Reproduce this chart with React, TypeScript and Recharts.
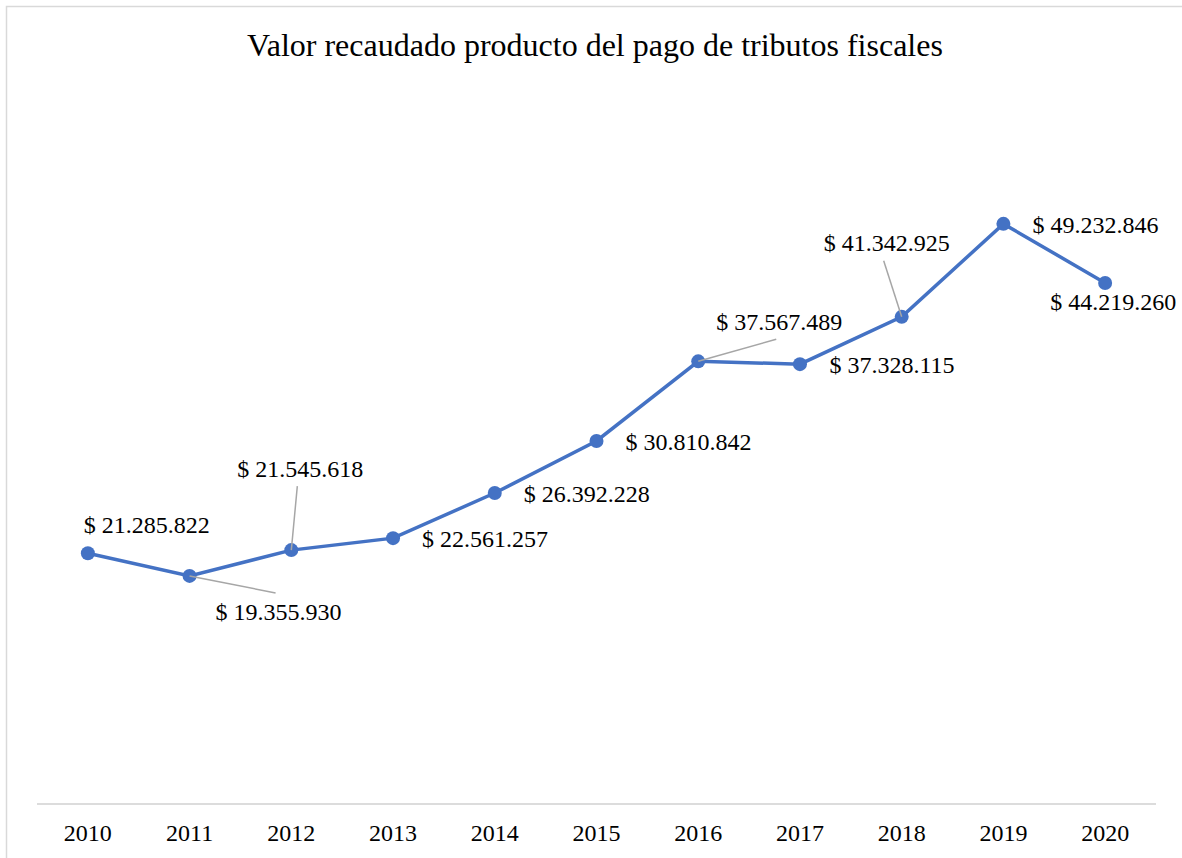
import React from 'react';
import { LineChart, Line, XAxis, YAxis, LabelList } from 'recharts';

const years = ['2010', '2011', '2012', '2013', '2014', '2015', '2016', '2017', '2018', '2019', '2020'];
const recaudo = [21285822, 19355930, 21545618, 22561257, 26392228, 30810842, 37567489, 37328115, 41342925, 49232846, 44219260];
const titleText = 'Valor recaudado producto del pago de tributos fiscales';

// label placement relative to each point: [dx, dyBaseline, leaderDx, leaderDy]
const labelPlacement: [number, number, number, number][] = [
  [59, -20, 0, 0],
  [89, 44, 86, 17],
  [9, -73, 6, -64],
  [92, 9, 0, 0],
  [92, 9, 0, 0],
  [92, 9, 0, 0],
  [81, -31, 78, -22],
  [92, 9, 0, 0],
  [-15, -66, -18, -56],
  [92, 9, 0, 0],
  [8, 27, 0, 0],
];

const data = years.map((y, i) => ({ year: y, value: recaudo[i] }));

const FONT = '"Liberation Serif", "Times New Roman", Times, serif';

const fmt = (v: number) => '$ ' + String(Math.round(v)).replace(/\B(?=(\d{3})+(?!\d))/g, '.');

const renderLabel = (props: any) => {
  const { x, y, value, index } = props;
  const p = labelPlacement[index] || [90, 9, 0, 0];
  const [dx, dy, lx, ly] = p;
  return (
    <g key={`lbl-${index}`}>
      {(lx !== 0 || ly !== 0) && (
        <line x1={x} y1={y} x2={x + lx} y2={y + ly} stroke="#a6a6a6" strokeWidth={1.5} />
      )}
      <text x={x + dx} y={y + dy} textAnchor="middle" fontFamily={FONT} fontSize={24} fill="#000">
        {fmt(Number(value))}
      </text>
    </g>
  );
};

export default function App() {
  return (
    <div style={{ position: 'absolute', left: 0, top: 0, width: 1182, height: 858, overflow: 'hidden', background: '#fff' }}>
      <svg width={1182} height={858} style={{ position: 'absolute', left: 0, top: 0 }}>
        <rect x={6.5} y={6.5} width={1300} height={1000} fill="none" stroke="#d9d9d9" strokeWidth={1.5} />
        <text x={595} y={56} textAnchor="middle" fontFamily={FONT} fontSize={32} fill="#000">
          {titleText}
        </text>
      </svg>
      <div style={{ position: 'absolute', left: 0, top: 0 }}>
        <LineChart width={1182} height={858} data={data} margin={{ top: 97, left: 37, right: 26, bottom: 24 }}>
          <XAxis
            dataKey="year"
            scale="band"
            height={30}
            axisLine={{ stroke: '#d0d0d0', strokeWidth: 1.5 }}
            tickLine={false}
            tickSize={6}
            tickMargin={14}
            interval={0}
            tick={{ fontFamily: FONT, fontSize: 24, fill: '#000' }}
          />
          <YAxis hide domain={[0, 60000000]} />
          <Line
            type="linear"
            dataKey="value"
            stroke="#4472C4"
            strokeWidth={3.5}
            dot={{ r: 7, fill: '#4472C4', stroke: '#4472C4', strokeWidth: 0 }}
            activeDot={false}
            isAnimationActive={false}
          >
            <LabelList dataKey="value" content={renderLabel} />
          </Line>
        </LineChart>
      </div>
    </div>
  );
}
